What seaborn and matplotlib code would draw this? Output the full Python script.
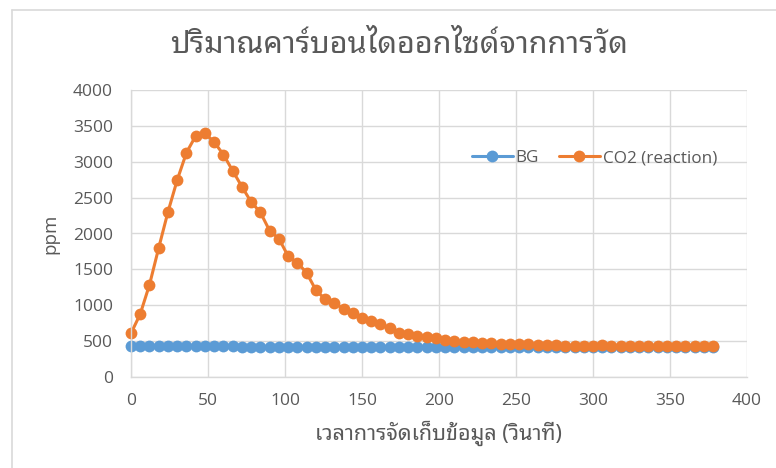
import matplotlib
matplotlib.use("Agg")
import matplotlib.pyplot as plt
from matplotlib.lines import Line2D
import numpy as np
import pandas as pd
import seaborn as sns

# Sampling times (seconds), one reading every 6 s
time_s = list(range(0, 379, 6))

# Background CO2 reading (ppm)
bg_ppm = [432, 430, 430, 432, 432, 430, 430, 432, 430, 430, 432, 430,
          420, 420, 418, 420, 420, 418, 420, 420, 418, 420, 420, 418,
          420, 420, 418, 420, 420, 418, 418, 420, 418, 418, 416,
          416, 418, 420, 420, 422, 422, 420, 420, 422, 422, 420, 418,
          418, 420, 420, 422, 422, 420, 418, 416, 416, 418, 418, 420,
          420, 418, 416, 416, 416]

# CO2 measured during the reaction (ppm)
co2_ppm = [609, 878, 1285, 1800, 2300, 2745, 3126, 3360, 3396, 3275,
           3100, 2876, 2653, 2440, 2295, 2040, 1930, 1686, 1593, 1454,
           1213, 1083, 1036, 948, 887, 827, 780, 734, 688, 620,
           600, 576, 557, 539, 515, 500, 490, 482, 475, 470,
           466, 462, 458, 455, 450, 446, 440, 436, 433, 432,
           436, 440, 438, 434, 432, 430, 430, 430, 433, 436,
           432, 430, 430, 430]

series_names = ["BG", "CO2 (reaction)"]
series_colors = ["#5B9BD5", "#ED7D31"]

title_text = "ปริมาณคาร์บอนไดออกไซด์จากการวัด"
xlabel_text = "เวลาการจัดเก็บข้อมูล (วินาที)"
ylabel_text = "ppm"

x_ticks = list(range(0, 401, 50))
y_ticks = list(range(0, 4001, 500))

df = pd.DataFrame({
    "time": time_s * 2,
    "ppm": bg_ppm + co2_ppm,
    "series": [series_names[0]] * len(time_s) + [series_names[1]] * len(time_s),
})

sns.set_theme(style="white")
text_grey = "#595959"
grid_grey = "#D9D9D9"
latin = ["Open Sans", "DejaVu Sans"]
thai = ["Noto Sans Thai Looped", "Open Sans", "DejaVu Sans"]
plt.rcParams["font.family"] = latin

fig = plt.figure(figsize=(7.76, 4.68), dpi=100)
ax = fig.add_axes([131 / 776, 1 - 377 / 468, 616 / 776, 287 / 468])

sns.lineplot(data=df, x="time", y="ppm", hue="series",
             palette=dict(zip(series_names, series_colors)),
             marker="o", markersize=8.5, markeredgewidth=0, linewidth=2.2,
             legend=False, ax=ax, clip_on=False)
for ln in ax.lines:
    ln.set_clip_on(False)

ax.set_xlim(0, 400)
ax.set_ylim(0, 4000)
ax.set_xticks(x_ticks)
ax.set_yticks(y_ticks)
ax.tick_params(axis="both", length=0, labelsize=12.5, labelcolor=text_grey)
ax.tick_params(axis="x", pad=11.5)
ax.tick_params(axis="y", pad=13)
ax.grid(True, color=grid_grey, linewidth=1.0)
ax.set_axisbelow(True)
for side in ["left", "bottom"]:
    ax.spines[side].set_color(grid_grey)
    ax.spines[side].set_linewidth(1.0)
for side in ["top", "right"]:
    ax.spines[side].set_visible(False)

ax.set_xlabel(xlabel_text, family=thai, fontsize=15.5, color=text_grey, labelpad=8)
ax.set_ylabel(ylabel_text, family=latin, fontsize=13.5, color=text_grey, labelpad=10)
fig.text(399 / 776, 1 - 45 / 468, title_text, family=thai, fontsize=22,
         color=text_grey, ha="center", va="center")

handles = [Line2D([0], [0], color=c, linewidth=2.2, marker="o", markersize=8.5,
                  markeredgewidth=0) for c in series_colors]
ax.legend(handles, series_names, loc="center", bbox_to_anchor=(0.752, 0.763),
          ncol=2, frameon=False, fontsize=12.3, labelcolor=text_grey,
          handlelength=2.4, handletextpad=0.15, columnspacing=1.2)

# Outer chart frame (top and left edges)
fig.add_artist(Line2D([12 / 776, 12 / 776], [0, 1 - 10 / 468], color=grid_grey,
                      linewidth=1.2, transform=fig.transFigure))
fig.add_artist(Line2D([12 / 776, 1], [1 - 10 / 468, 1 - 10 / 468], color=grid_grey,
                      linewidth=1.2, transform=fig.transFigure))

fig.savefig("out.png", dpi=100, facecolor="white")
